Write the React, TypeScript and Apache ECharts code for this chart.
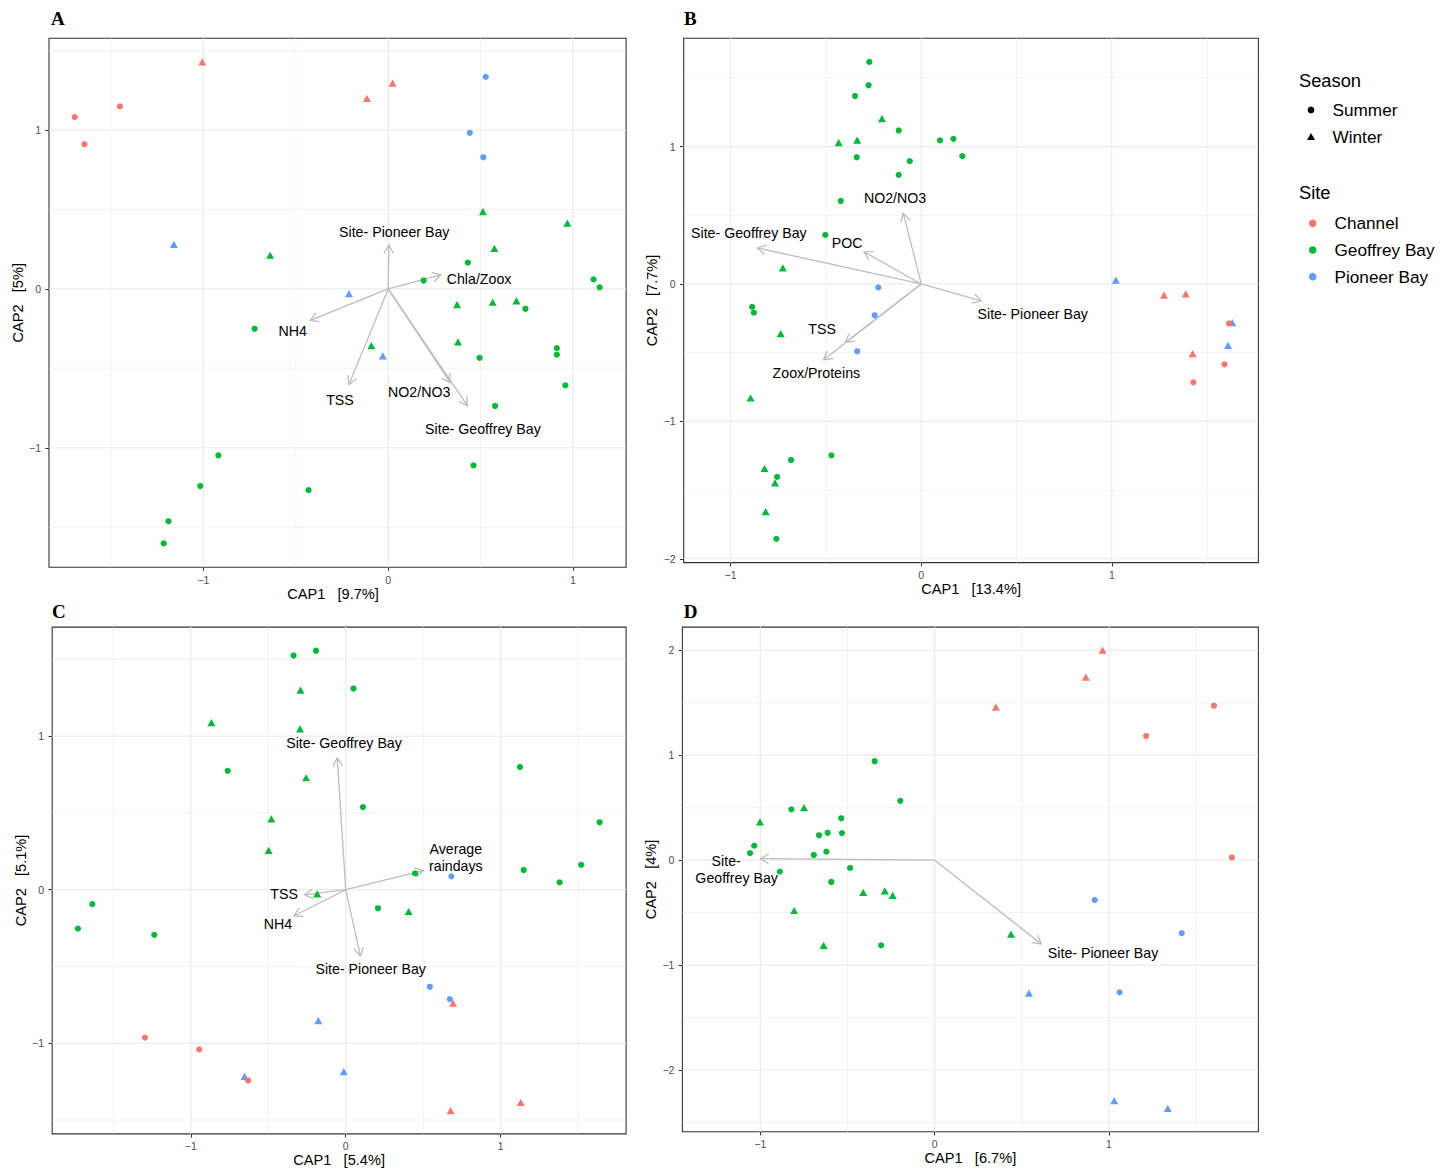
import React, { useEffect, useRef } from "react";
import * as echarts from "echarts";

type Site = "Channel" | "Geoffrey Bay" | "Pioneer Bay";
type Season = "Summer" | "Winter";
type Pt = [number, number, Site, Season];

const CH: Site = "Channel";
const GB: Site = "Geoffrey Bay";
const PB: Site = "Pioneer Bay";
const SU: Season = "Summer";
const WI: Season = "Winter";

// ---------- Panel A ----------
const pointsA: Pt[] = [
  [-1.697, 1.082, CH, SU], [-1.644, 0.911, CH, SU], [-1.452, 1.149, CH, SU],
  [-1.006, 1.429, CH, WI], [-0.115, 1.2, CH, WI], [0.024, 1.296, CH, WI],
  [0.528, 1.335, PB, SU], [0.442, 0.983, PB, SU], [0.515, 0.829, PB, SU],
  [-1.16, 0.28, PB, WI], [-0.212, -0.029, PB, WI], [-0.029, -0.422, PB, WI],
  [0.513, 0.487, GB, WI], [0.97, 0.414, GB, WI], [0.575, 0.255, GB, WI],
  [-0.639, 0.212, GB, WI], [0.373, -0.099, GB, WI], [0.566, -0.084, GB, WI],
  [0.694, -0.075, GB, WI], [0.378, -0.333, GB, WI], [-0.091, -0.357, GB, WI],
  [0.431, 0.166, GB, SU], [0.192, 0.053, GB, SU], [1.112, 0.06, GB, SU],
  [1.145, 0.01, GB, SU], [0.743, -0.125, GB, SU], [-0.723, -0.251, GB, SU],
  [0.913, -0.373, GB, SU], [0.913, -0.414, GB, SU], [0.495, -0.434, GB, SU],
  [0.959, -0.607, GB, SU], [0.579, -0.737, GB, SU], [-0.919, -1.048, GB, SU],
  [0.462, -1.111, GB, SU], [-1.017, -1.241, GB, SU], [-0.431, -1.267, GB, SU],
  [-1.189, -1.463, GB, SU], [-1.215, -1.602, GB, SU],
];
const arrowsA: [number, number][] = [
  [0.004, 0.277], [0.285, 0.089], [-0.422, -0.198], [-0.212, -0.602], [0.336, -0.59], [0.429, -0.735],
];
const labelsA: [number, number, string][] = [
  [0.033, 0.359, "Site- Pioneer Bay"], [0.492, 0.063, "Chla/Zoox"], [-0.517, -0.263, "NH4"],
  [-0.261, -0.699, "TSS"], [0.168, -0.648, "NO2/NO3"], [0.513, -0.882, "Site- Geoffrey Bay"],
];
const xRangeA = [-1.836, 1.288];
const yRangeA = [-1.752, 1.578];
const xTicksA = [-1, 0, 1];
const yTicksA = [-1, 0, 1];

// ---------- Panel B ----------
const pointsB: Pt[] = [
  [-0.272, 1.616, GB, SU], [-0.276, 1.446, GB, SU], [-0.347, 1.368, GB, SU], [-0.118, 1.117, GB, SU],
  [0.099, 1.045, GB, SU], [0.169, 1.056, GB, SU], [-0.338, 0.922, GB, SU], [0.216, 0.93, GB, SU],
  [-0.06, 0.894, GB, SU], [-0.118, 0.794, GB, SU], [-0.422, 0.604, GB, SU], [-0.503, 0.357, GB, SU],
  [-0.887, -0.167, GB, SU], [-0.878, -0.209, GB, SU], [-0.471, -1.248, GB, SU], [-0.683, -1.281, GB, SU],
  [-0.756, -1.404, GB, SU], [-0.76, -1.855, GB, SU],
  [-0.206, 1.203, GB, WI], [-0.433, 1.028, GB, WI], [-0.336, 1.047, GB, WI], [-0.726, 0.117, GB, WI],
  [-0.737, -0.362, GB, WI], [-0.895, -0.83, GB, WI], [-0.822, -1.343, GB, WI], [-0.767, -1.448, GB, WI],
  [-0.816, -1.657, GB, WI],
  [-0.225, -0.025, PB, SU], [-0.244, -0.228, PB, SU], [-0.336, -0.49, PB, SU],
  [1.021, 0.028, PB, WI], [1.632, -0.281, PB, WI], [1.61, -0.448, PB, WI],
  [1.615, -0.287, CH, SU], [1.591, -0.585, CH, SU], [1.428, -0.716, CH, SU],
  [1.274, -0.081, CH, WI], [1.388, -0.072, CH, WI], [1.424, -0.507, CH, WI],
];
const arrowsB: [number, number][] = [
  [-0.859, 0.262], [-0.3, 0.234], [-0.094, 0.515], [0.315, -0.123], [-0.398, -0.426], [-0.512, -0.552],
];
const labelsB: [number, number, string][] = [
  [-0.904, 0.368, "Site- Geoffrey Bay"], [-0.388, 0.301, "POC"], [-0.137, 0.624, "NO2/NO3"],
  [0.585, -0.22, "Site- Pioneer Bay"], [-0.52, -0.326, "TSS"], [-0.55, -0.649, "Zoox/Proteins"],
];
const xRangeB = [-1.246, 1.769];
const yRangeB = [-2.028, 1.788];
const xTicksB = [-1, 0, 1];
const yTicksB = [-2, -1, 0, 1];

// ---------- Panel C ----------
const pointsC: Pt[] = [
  [-0.337, 1.525, GB, SU], [-0.192, 1.556, GB, SU], [0.05, 1.31, GB, SU], [-0.762, 0.774, GB, SU],
  [0.111, 0.538, GB, SU], [1.125, 0.799, GB, SU], [1.639, 0.439, GB, SU], [1.52, 0.162, GB, SU],
  [1.149, 0.128, GB, SU], [1.381, 0.048, GB, SU], [0.448, 0.106, GB, SU], [0.208, -0.121, GB, SU],
  [-1.636, -0.094, GB, SU], [-1.729, -0.253, GB, SU], [-1.236, -0.294, GB, SU],
  [-0.292, 1.3, GB, WI], [-0.867, 1.088, GB, WI], [-0.295, 1.047, GB, WI], [-0.256, 0.729, GB, WI],
  [-0.48, 0.461, GB, WI], [-0.498, 0.256, GB, WI], [-0.184, -0.027, GB, WI], [0.406, -0.142, GB, WI],
  [0.682, 0.087, PB, SU], [0.543, -0.632, PB, SU], [0.672, -0.712, PB, SU],
  [-0.177, -0.852, PB, WI], [-0.653, -1.216, PB, WI], [-0.013, -1.185, PB, WI],
  [-1.296, -0.963, CH, SU], [-0.946, -1.04, CH, SU], [-0.63, -1.242, CH, SU],
  [0.693, -0.738, CH, WI], [0.677, -1.438, CH, WI], [1.13, -1.385, CH, WI],
];
const arrowsC: [number, number][] = [
  [-0.055, 0.859], [0.501, 0.125], [-0.266, -0.034], [-0.335, -0.171], [0.095, -0.432],
];
const labelsC: [number, number, string][] = [
  [-0.011, 0.953, "Site- Geoffrey Bay"], [0.711, 0.21, "Average\nraindays"], [-0.398, -0.027, "TSS"],
  [-0.437, -0.224, "NH4"], [0.161, -0.516, "Site- Pioneer Bay"],
];
const xRangeC = [-1.895, 1.81];
const yRangeC = [-1.59, 1.71];
const xTicksC = [-1, 0, 1];
const yTicksC = [-1, 0, 1];

// ---------- Panel D ----------
const pointsD: Pt[] = [
  [0.963, 2.002, CH, WI], [0.867, 1.744, CH, WI], [0.351, 1.458, CH, WI],
  [1.602, 1.472, CH, SU], [1.213, 1.183, CH, SU], [1.705, 0.025, CH, SU],
  [0.918, -0.381, PB, SU], [1.417, -0.696, PB, SU], [1.061, -1.26, PB, SU],
  [0.541, -1.267, PB, WI], [1.03, -2.291, PB, WI], [1.337, -2.365, PB, WI],
  [-0.344, 0.943, GB, SU], [-0.197, 0.565, GB, SU], [-0.822, 0.484, GB, SU], [-0.536, 0.399, GB, SU],
  [-0.663, 0.237, GB, SU], [-0.614, 0.261, GB, SU], [-0.532, 0.258, GB, SU], [-1.035, 0.138, GB, SU],
  [-1.059, 0.067, GB, SU], [-0.621, 0.081, GB, SU], [-0.693, 0.049, GB, SU], [-0.485, -0.074, GB, SU],
  [-0.888, -0.109, GB, SU], [-0.593, -0.208, GB, SU], [-0.307, -0.812, GB, SU],
  [-1.002, 0.364, GB, WI], [-0.749, 0.501, GB, WI], [-0.41, -0.307, GB, WI], [-0.286, -0.293, GB, WI],
  [-0.241, -0.335, GB, WI], [-0.806, -0.48, GB, WI], [-0.637, -0.812, GB, WI], [0.438, -0.706, GB, WI],
];
const arrowsD: [number, number][] = [[-1.0, 0.014], [0.611, -0.798]];
const labelsD: [number, number, string][] = [
  [-1.196, -0.009, "Site-"], [-1.136, -0.168, "Geoffrey Bay"], [0.966, -0.888, "Site- Pioneer Bay"],
];
const xRangeD = [-1.447, 1.857];
const yRangeD = [-2.588, 2.221];
const xTicksD = [-1, 0, 1];
const yTicksD = [-2, -1, 0, 1, 2];

const NB = "\u00A0\u00A0\u00A0";
const xTitles = [`CAP1${NB}[9.7%]`, `CAP1${NB}[13.4%]`, `CAP1${NB}[5.4%]`, `CAP1${NB}[6.7%]`];
const yTitles = [`CAP2${NB}[5%]`, `CAP2${NB}[7.7%]`, `CAP2${NB}[5.1%]`, `CAP2${NB}[4%]`];
const panelLetters = ["A", "B", "C", "D"];

const siteColors: Record<Site, string> = {
  Channel: "#F8766D",
  "Geoffrey Bay": "#00BA38",
  "Pioneer Bay": "#619CFF",
};
const seasonNames: Season[] = ["Summer", "Winter"];
const siteNames: Site[] = ["Channel", "Geoffrey Bay", "Pioneer Bay"];

// ---------- layout (pixels) ----------
const grids = [
  { left: 49, top: 38.3, width: 577.1, height: 528.9 },
  { left: 683.7, top: 38.3, width: 574.7, height: 524.3 },
  { left: 52.2, top: 627.1, width: 573.9, height: 506.8 },
  { left: 682.4, top: 627.1, width: 576.0, height: 504.6 },
];
const letterPos = [
  [51, 18.8], [684, 18.8], [52, 611.3], [683.7, 611.3],
];

const SANS = '"Liberation Sans", Arial, Helvetica, sans-serif';
const SERIF = '"Liberation Serif", "Times New Roman", serif';
const ARROW = "#BDBDBD";

function minorLines(range: number[], ticks: number[]): number[] {
  const out: number[] = [];
  const lo = Math.min(...ticks) - 1;
  const hi = Math.max(...ticks) + 1;
  for (let v = lo + 0.5; v < hi; v += 1) {
    if (v > range[0] && v < range[1]) out.push(v);
  }
  return out;
}

const fmt = (v: number) => (v < 0 ? "\u2212" + Math.abs(v) : String(v));

export default function App() {
  const ref = useRef<HTMLDivElement>(null);

  useEffect(() => {
    document.body.style.margin = "0";
    if (!ref.current) return;
    const chart = echarts.init(ref.current, undefined, { renderer: "svg" });

    const panels = [
      { pts: pointsA, arrows: arrowsA, labels: labelsA, xr: xRangeA, yr: yRangeA, xt: xTicksA, yt: yTicksA },
      { pts: pointsB, arrows: arrowsB, labels: labelsB, xr: xRangeB, yr: yRangeB, xt: xTicksB, yt: yTicksB },
      { pts: pointsC, arrows: arrowsC, labels: labelsC, xr: xRangeC, yr: yRangeC, xt: xTicksC, yt: yTicksC },
      { pts: pointsD, arrows: arrowsD, labels: labelsD, xr: xRangeD, yr: yRangeD, xt: xTicksD, yt: yTicksD },
    ];

    const series: any[] = [];
    panels.forEach((p, i) => {
      // grid lines
      const gl: number[][] = [];
      p.xt.forEach((v) => gl.push([v, 1, 1]));
      minorLines(p.xr, p.xt).forEach((v) => gl.push([v, 1, 0]));
      p.yt.forEach((v) => gl.push([v, 0, 1]));
      minorLines(p.yr, p.yt).forEach((v) => gl.push([v, 0, 0]));
      series.push({
        type: "custom",
        xAxisIndex: i,
        yAxisIndex: i,
        silent: true,
        z: 1,
        data: gl,
        renderItem: (params: any, api: any) => {
          const v = api.value(0);
          const isX = api.value(1) === 1;
          const major = api.value(2) === 1;
          const a = isX ? api.coord([v, p.yr[0]]) : api.coord([p.xr[0], v]);
          const b = isX ? api.coord([v, p.yr[1]]) : api.coord([p.xr[1], v]);
          return {
            type: "line",
            shape: { x1: a[0], y1: a[1], x2: b[0], y2: b[1] },
            style: { stroke: "#EBEBEB", lineWidth: major ? 1.2 : 0.6 },
          };
        },
      });
      // arrows
      series.push({
        type: "custom",
        xAxisIndex: i,
        yAxisIndex: i,
        silent: true,
        z: 2,
        data: p.arrows,
        renderItem: (params: any, api: any) => {
          const o = api.coord([0, 0]);
          const t = api.coord([api.value(0), api.value(1)]);
          const ang = Math.atan2(t[1] - o[1], t[0] - o[0]);
          const L = 9.5;
          const a = Math.PI / 6;
          const h1 = [t[0] - L * Math.cos(ang - a), t[1] - L * Math.sin(ang - a)];
          const h2 = [t[0] - L * Math.cos(ang + a), t[1] - L * Math.sin(ang + a)];
          return {
            type: "group",
            children: [
              {
                type: "line",
                shape: { x1: o[0], y1: o[1], x2: t[0], y2: t[1] },
                style: { stroke: ARROW, lineWidth: 1.3 },
              },
              {
                type: "polyline",
                shape: { points: [h1, t, h2] },
                style: { stroke: ARROW, fill: null, lineWidth: 1.3 },
              },
            ],
          };
        },
      });
      // points
      series.push({
        type: "scatter",
        xAxisIndex: i,
        yAxisIndex: i,
        silent: true,
        z: 3,
        data: p.pts.map((d) => ({
          value: [d[0], d[1]],
          symbol: d[3] === "Summer" ? "circle" : "triangle",
          symbolSize: d[3] === "Summer" ? 6.2 : [8, 7.2],
          itemStyle: { color: siteColors[d[2]], opacity: 1 },
        })),
      });
      // labels
      series.push({
        type: "custom",
        xAxisIndex: i,
        yAxisIndex: i,
        silent: true,
        z: 4,
        data: p.labels.map((l) => [l[0], l[1]]),
        renderItem: (params: any, api: any) => {
          const c = api.coord([api.value(0), api.value(1)]);
          const lab = p.labels[params.dataIndex];
          return {
            type: "text",
            x: c[0],
            y: c[1],
            style: {
              text: lab[2],
              fill: "#000",
              fontSize: 14.2,
              fontFamily: SANS,
              align: "center",
              verticalAlign: "middle",
              lineHeight: 17,
            },
          };
        },
      });
    });

    const graphic: any[] = [];
    panelLetters.forEach((L, i) => {
      graphic.push({
        type: "text",
        x: letterPos[i][0],
        y: letterPos[i][1],
        style: {
          text: L,
          fill: "#000",
          fontSize: 19,
          fontWeight: "bold",
          fontFamily: SERIF,
          align: "left",
          verticalAlign: "middle",
        },
      });
    });
    // legend
    const legTitle = (t: string, y: number) => ({
      type: "text",
      x: 1299,
      y,
      style: { text: t, fill: "#000", fontSize: 18.3, fontFamily: SANS, align: "left", verticalAlign: "middle" },
    });
    const legText = (t: string, x: number, y: number) => ({
      type: "text",
      x,
      y,
      style: { text: t, fill: "#000", fontSize: 17.2, fontFamily: SANS, align: "left", verticalAlign: "middle" },
    });
    graphic.push(legTitle("Season", 80.7));
    const seasonY = [110, 136.7];
    seasonNames.forEach((s, k) => {
      const y = seasonY[k];
      if (s === "Summer") {
        graphic.push({ type: "circle", shape: { cx: 1311, cy: y, r: 3.4 }, style: { fill: "#000" } });
      } else {
        graphic.push({
          type: "polygon",
          shape: { points: [[1307, y + 3.4], [1315, y + 3.4], [1311, y - 3.6]] },
          style: { fill: "#000" },
        });
      }
      graphic.push(legText(s, 1332.5, y));
    });
    graphic.push(legTitle("Site", 192.7));
    const siteY = [223.3, 250, 276.7];
    siteNames.forEach((s, k) => {
      const y = siteY[k];
      graphic.push({ type: "circle", shape: { cx: 1312.7, cy: y, r: 3.8 }, style: { fill: siteColors[s] } });
      graphic.push(legText(s, 1334.5, y));
    });

    const option: any = {
      animation: false,
      backgroundColor: "#fff",
      grid: grids.map((g) => ({
        ...g,
        show: true,
        borderColor: "#333333",
        borderWidth: 1.1,
        backgroundColor: "transparent",
        containLabel: false,
      })),
      xAxis: panels.map((p, i) => ({
        type: "value",
        gridIndex: i,
        min: p.xr[0],
        max: p.xr[1],
        position: "bottom",
        axisLine: { show: false, onZero: false },
        splitLine: { show: false },
        axisTick: { show: true, customValues: p.xt, length: 3.7, lineStyle: { color: "#333333", width: 1 } },
        axisLabel: {
          customValues: p.xt,
          formatter: fmt,
          color: "#4D4D4D",
          fontSize: 10.5,
          fontFamily: SANS,
          margin: 7,
        },
        name: xTitles[i],
        nameLocation: "middle",
        nameGap: 17.5,
        nameTextStyle: { color: "#000", fontSize: 14.6, fontFamily: SANS, padding: i === 0 ? [0, 9, 0, 0] : 0 },
      })),
      yAxis: panels.map((p, i) => ({
        type: "value",
        gridIndex: i,
        min: p.yr[0],
        max: p.yr[1],
        position: "left",
        axisLine: { show: false, onZero: false },
        splitLine: { show: false },
        axisTick: { show: true, customValues: p.yt, length: 3.7, lineStyle: { color: "#333333", width: 1 } },
        axisLabel: {
          customValues: p.yt,
          formatter: fmt,
          color: "#4D4D4D",
          fontSize: 10.5,
          fontFamily: SANS,
          margin: 8,
        },
        name: yTitles[i],
        nameLocation: "middle",
        nameGap: 23,
        nameTextStyle: { color: "#000", fontSize: 14.6, fontFamily: SANS },
      })),
      series,
      graphic,
    };
    chart.setOption(option);
    return () => chart.dispose();
  }, []);

  return <div ref={ref} style={{ width: 1448, height: 1171 }} />;
}
